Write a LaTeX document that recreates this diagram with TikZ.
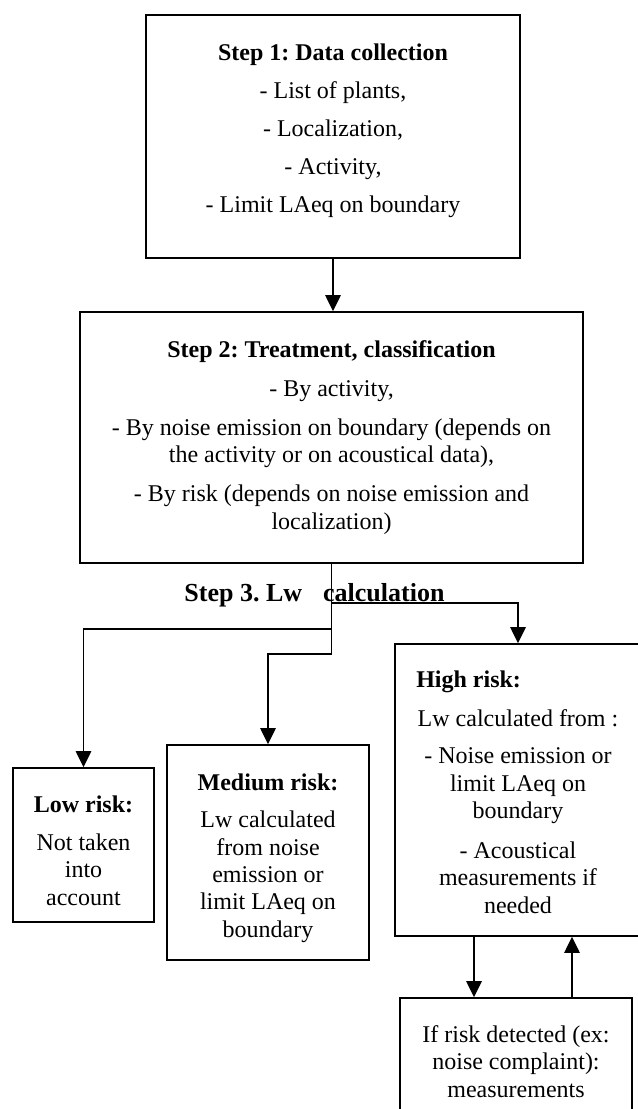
\documentclass[tikz,border=0pt]{standalone}
\usepackage{fontspec}
\setmainfont{Liberation Serif}
\usetikzlibrary{arrows.meta,calc}
\frenchspacing
\begin{document}
\begin{tikzpicture}[x=0.75pt,y=-0.75pt,
  box/.style={draw,line width=1.15pt,inner sep=0pt,anchor=center},
  txt/.style={align=center,inner sep=0pt,anchor=north,font=\fontsize{18pt}{20.6pt}\selectfont},
  arr/.style={line width=1.15pt,-{Triangle[length=12pt,width=11.5pt]}},
  ln/.style={line width=1.15pt}]
\useasboundingbox (0,0) rectangle (638,1109);
% boxes
\node[box,minimum width=280.5pt,minimum height=182.25pt] (b1) at (333,136.5) {};
\node[box,minimum width=377.25pt,minimum height=188.25pt] (b2) at (331.5,437.5) {};
\node[box,minimum width=105.75pt,minimum height=115.5pt] (low) at (83.5,845) {};
\node[box,minimum width=151.5pt,minimum height=161.25pt] (med) at (268,852.5) {};
\node[box,minimum width=184.5pt,minimum height=219pt] (high) at (518,790) {};
\node[box,minimum width=174pt,minimum height=95.25pt] (bot) at (516,1061.5) {};
% texts
\node[txt] (b1t) at (333,43.2) {\textbf{Step 1: Data collection}\\[7.9pt]
  - List of plants,\\[7.9pt] - Localization,\\[7.9pt] - Activity,\\[7.9pt] - Limit LAeq on boundary};
\node[txt] (b2t) at (331.5,340.2) {\textbf{Step 2: Treatment, classification}\\[8.6pt]
  - By activity,\\[8.6pt]
  - By noise emission on boundary (depends on\\ the activity or on acoustical data),\\[8.6pt]
  - By risk (depends on noise emission and\\ localization)};
\node[txt] (lowt) at (83.5,795.2) {\textbf{Low risk:}\\[8pt] Not taken\\ into\\ account};
\node[txt] (medt) at (268,773.2) {\textbf{Medium risk:}\\[7.5pt] Lw calculated\\ from noise\\ emission or\\ limit LAeq on\\ boundary};
\node[txt,anchor=base west] (hight) at (416,687) {\textbf{High risk:}};
\node[txt] (highb) at (518,709.2) {Lw calculated from :\\[7.5pt] - Noise emission or\\ limit LAeq on\\ boundary\\[9pt] - Acoustical\\ measurements if\\ needed};
\node[txt] (bott) at (516,1025.2) {If risk detected (ex:\\ noise complaint):\\ measurements};
\node[anchor=base,inner sep=0pt,font=\fontsize{19.5pt}{22pt}\selectfont\bfseries] (s3) at (314.5,601) {Step 3. Lw\hspace{15.75pt}calculation};
% connectors
\coordinate (j1) at (331.5,603);
\coordinate (j2) at (331.5,629);
\coordinate (j3) at (331.5,654);
\draw[arr] (b1.south) -- (b1.south |- b2.north);
\draw[ln] (b2.south) -- (j3);
\draw[arr] (j1) -| (high.north);
\draw[arr] (j2) -| (low.north);
\draw[arr] (j3) -| (med.north);
\draw[arr] ([xshift=-33pt]high.south) -- ([xshift=-33pt]high.south |- bot.north);
\draw[arr] ([xshift=40.5pt]high.south |- bot.north) -- ([xshift=40.5pt]high.south);
\end{tikzpicture}
\end{document}
